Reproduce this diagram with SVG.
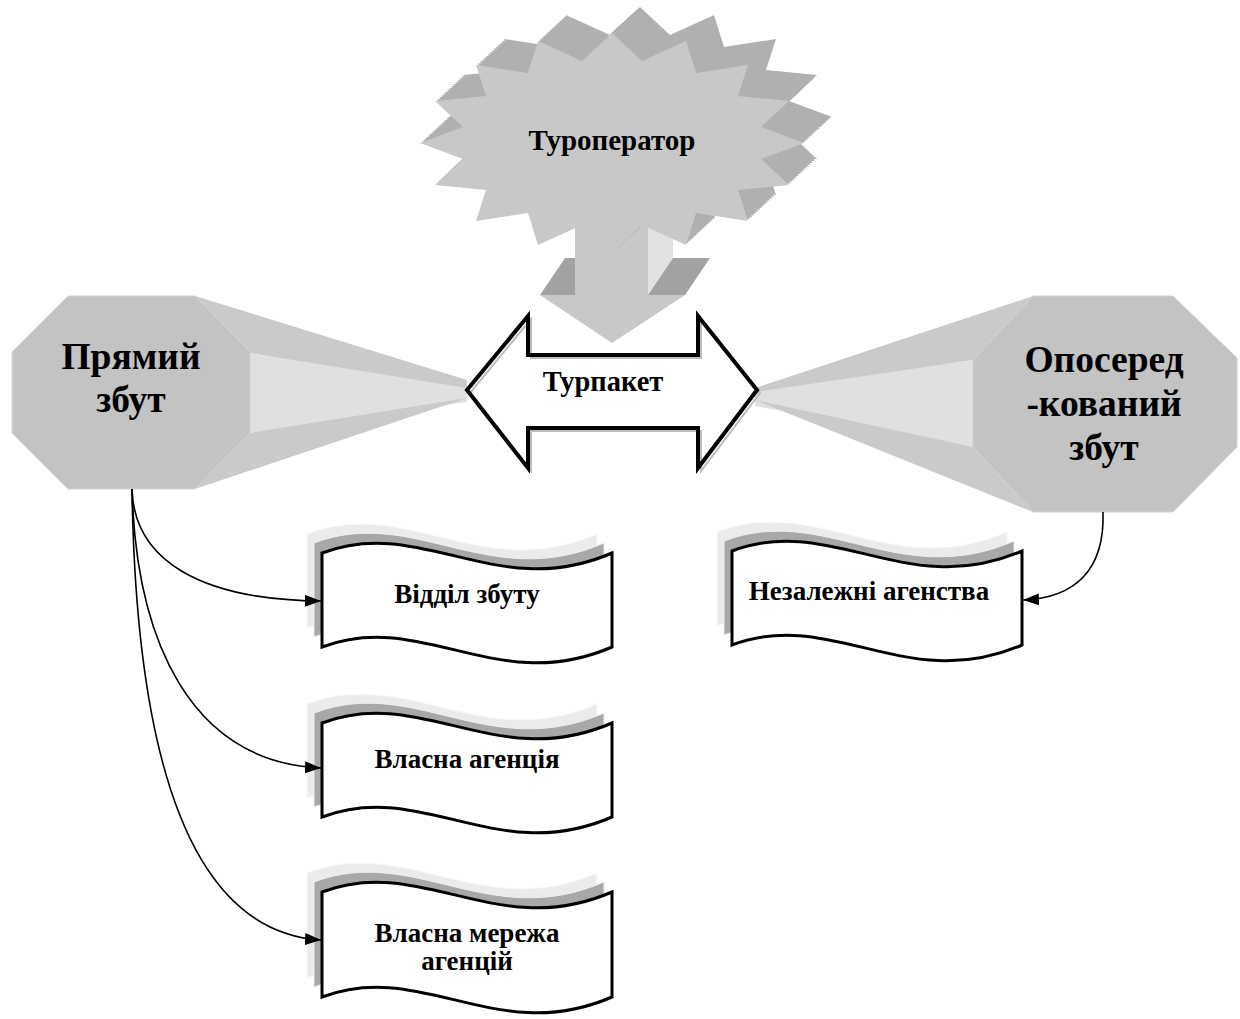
<svg xmlns="http://www.w3.org/2000/svg" width="1240" height="1019" viewBox="0 0 1240 1019">
<style>
.t{font-family:"Liberation Serif","Times New Roman",serif;font-weight:bold;fill:#000;text-anchor:middle}
.big{font-size:37.5px}
.mid{font-size:29px}
.small{font-size:27px}
.con{fill:none;stroke:#000;stroke-width:1.6}
.oct{fill:#c3c3c3;stroke:#d2d2d2;stroke-width:1}
.cone{fill:#cacaca}
.conel{fill:#e0e0e0}
.front{fill:#fff;stroke:#000;stroke-width:3}
.lay1{fill:#ebebeb;stroke:#f8f8f8;stroke-width:1}
.lay2{fill:#a8a8a8;stroke:#efefef;stroke-width:1}
.ext{fill:#b0b0b0}
.face{fill:#c8c8c8}
</style>
<defs>
<marker id="ah" markerUnits="userSpaceOnUse" markerWidth="18" markerHeight="14" refX="16" refY="6" orient="auto"><path d="M0,0 L16,6 L0,12 Z" fill="#000"/></marker>
<polygon id="star" points="804,143 761,127 789,101 738,96 748,65 696,73 686,41 642,61 612,33 582,61 538,41 528,73 476,65 486,96 435,101 463,127 420,143 463,159 435,185 486,190 476,221 528,213 538,245 582,225 612,253 642,225 686,245 696,213 748,221 738,190 789,185 761,159"/>
<path id="w94" d="M0,0 C100,-38 175,50 290,0 L290,94 C175,144 100,56 0,94 Z"/>
<path id="w105" d="M0,0 C100,-38 175,50 290,0 L290,105 C175,155 100,67 0,105 Z"/>
</defs>
<rect x="0" y="0" width="1240" height="1019" fill="#fff"/>

<g id="pryamyi">
<polygon class="cone" points="195,296 467,380 467,390 250,353"/>
<polygon class="conel" points="250,353 467,388 467,402 250,433"/>
<polygon class="cone" points="250,433 467,398 195,489"/>
<polygon class="oct" points="68,296 195,296 250,352 250,433 195,489 68,489 12,433 12,352"/>
<text class="t big" x="131" y="369">Прямий</text>
<text class="t big" x="131" y="412">збут</text>
</g>

<g id="oposeredkovanyi">
<polygon class="cone" points="1033,296 755,388 755,395 973,360"/>
<polygon class="conel" points="973,360 755,392 755,406 973,447"/>
<polygon class="cone" points="973,447 755,400 1033,512"/>
<polygon class="oct" points="1033,296 1173,296 1237,358 1237,447 1173,512 1033,512 973,447 973,360"/>
<text class="t big" x="1104" y="372">Опосеред</text>
<text class="t big" x="1104" y="416">-кований</text>
<text class="t big" x="1104" y="460">збут</text>
</g>

<g id="turoperator">
<polygon fill="#e2e2e2" points="648,295 673,258 673,200 648,225"/>
<polygon fill="#a2a2a2" points="648,295 673,258 710,258 685,295"/>
<polygon fill="#a2a2a2" points="540,295 565,258 575,258 575,295"/>
<polygon class="face" points="540,295 575,295 575,220 648,220 648,295 685,295 612,343"/>
<g class="ext">
<use href="#star" transform="translate(2,-1.86)"/>
<use href="#star" transform="translate(4,-3.71)"/>
<use href="#star" transform="translate(6,-5.57)"/>
<use href="#star" transform="translate(8,-7.43)"/>
<use href="#star" transform="translate(10,-9.29)"/>
<use href="#star" transform="translate(12,-11.14)"/>
<use href="#star" transform="translate(14,-13)"/>
<use href="#star" transform="translate(16,-14.86)"/>
<use href="#star" transform="translate(18,-16.71)"/>
<use href="#star" transform="translate(20,-18.57)"/>
<use href="#star" transform="translate(22,-20.43)"/>
<use href="#star" transform="translate(24,-22.29)"/>
<use href="#star" transform="translate(26,-24.14)"/>
<use href="#star" transform="translate(28,-26)"/>
</g>
<use href="#star" class="face"/>
<text class="t mid" x="612" y="150">Туроператор</text>
</g>

<g id="turpaket">
<polygon fill="#fff" points="467,390 528,316 528,355 698,355 698,316 757,390 698,468 698,428 528,428 528,468"/>
<polygon fill="none" stroke="#bcbcbc" stroke-width="2" points="470,393 531,319 531,358 701,358 701,319 760,393 701,471 701,431 531,431 531,471"/>
<polygon fill="none" stroke="#000" stroke-width="4" stroke-linejoin="miter" points="467,390 528,316 528,355 698,355 698,316 757,390 698,468 698,428 528,428 528,468"/>
<text class="t mid" x="603" y="391" style="font-size:28.5px">Турпакет</text>
</g>

<g id="viddil">
<use href="#w94" x="307" y="534" class="lay1"/>
<use href="#w94" x="314" y="543" class="lay2"/>
<use href="#w94" x="322" y="553" class="front"/>
<text class="t small" x="467" y="603">Відділ збуту</text>
</g>

<g id="vlasna-agentsiia">
<use href="#w94" x="307" y="704" class="lay1"/>
<use href="#w94" x="314" y="713" class="lay2"/>
<use href="#w94" x="322" y="723" class="front"/>
<text class="t small" x="467" y="768">Власна агенція</text>
</g>

<g id="vlasna-merezha">
<use href="#w105" x="307" y="873" class="lay1"/>
<use href="#w105" x="314" y="882" class="lay2"/>
<use href="#w105" x="322" y="892" class="front"/>
<text class="t small" x="467" y="942">Власна мережа</text>
<text class="t small" x="467" y="970">агенцій</text>
</g>

<g id="nezalezhni">
<use href="#w94" x="717" y="532" class="lay1"/>
<use href="#w94" x="724" y="541" class="lay2"/>
<use href="#w94" x="732" y="551" class="front"/>
<text class="t small" x="869" y="600">Незалежні агенства</text>
</g>

<g id="connectors">
<path class="con" marker-end="url(#ah)" d="M132,489 C134,560 200,600 321,601"/>
<path class="con" marker-end="url(#ah)" d="M132,489 C136,640 190,762 321,768"/>
<path class="con" marker-end="url(#ah)" d="M132,489 C136,760 190,932 321,940"/>
<path class="con" marker-end="url(#ah)" d="M1103,512 C1105,570 1075,598 1023,600"/>
</g>
</svg>
